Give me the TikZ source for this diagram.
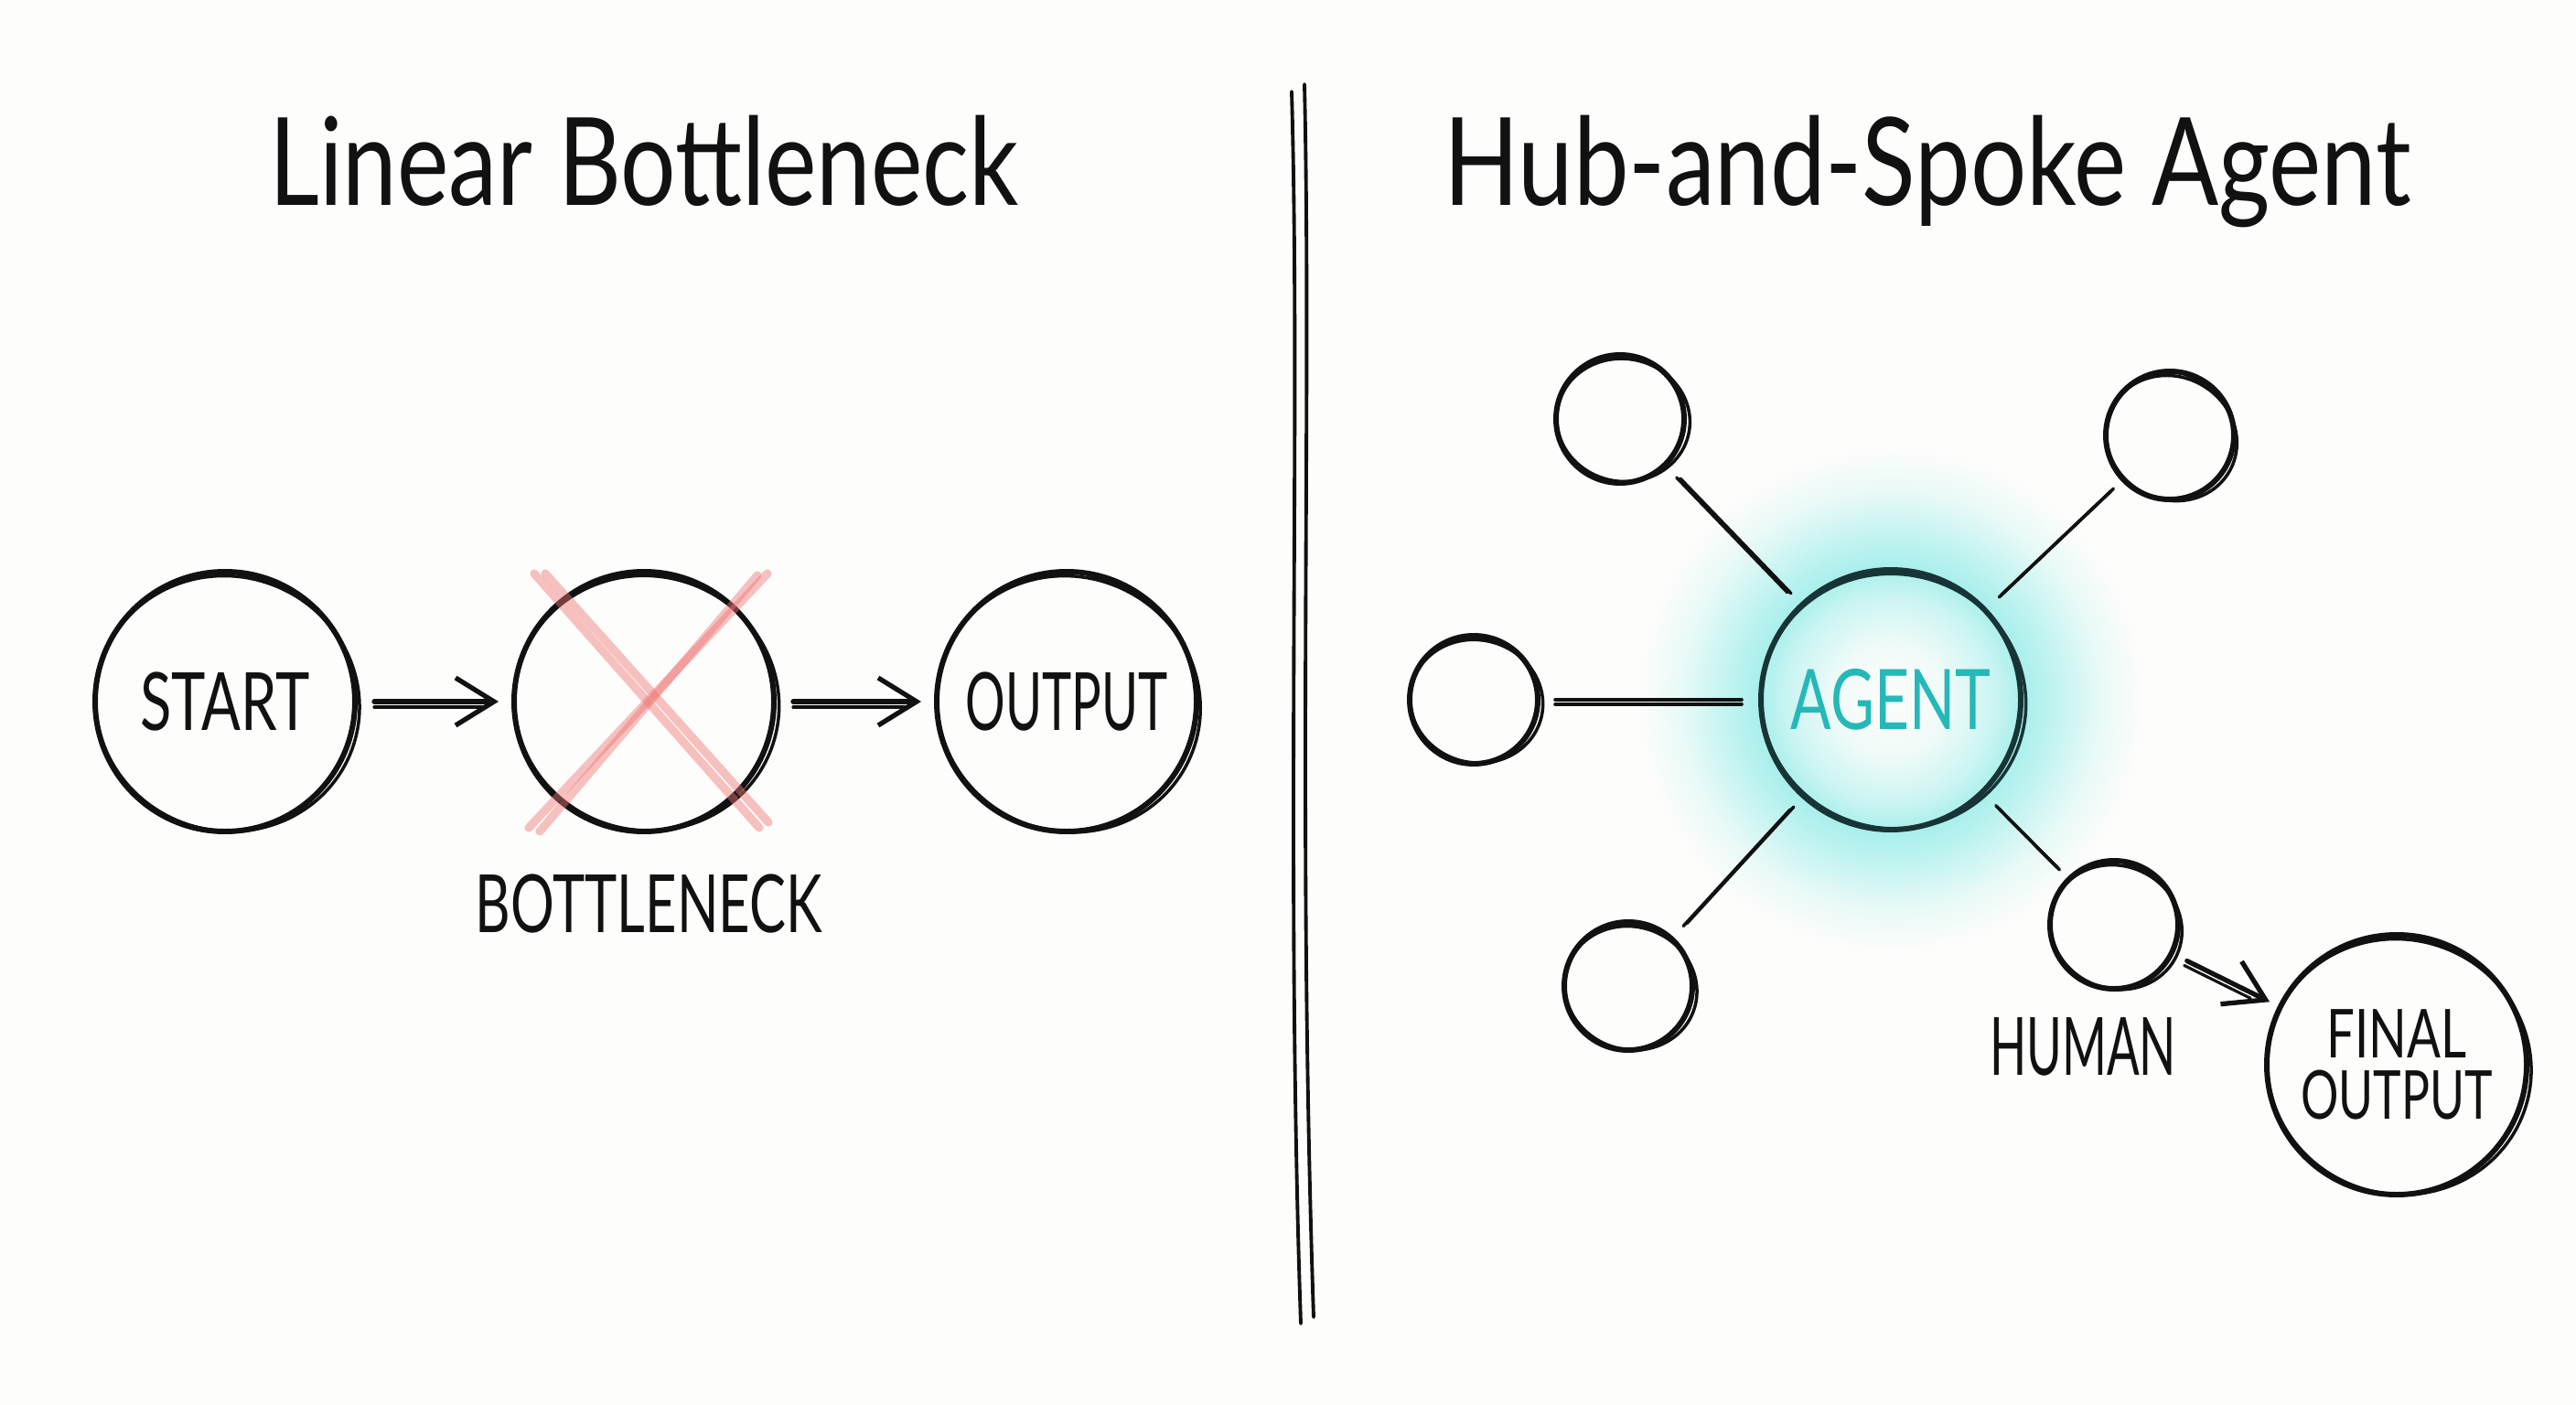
\documentclass[tikz,border=0pt]{standalone}
\usepackage{fontspec}
\setmainfont{Lato}
\usetikzlibrary{arrows.meta,calc}

\definecolor{bg}{RGB}{253,253,251}
\definecolor{ink}{RGB}{17,17,17}
\definecolor{agentink}{RGB}{24,52,54}
\definecolor{agenttxt}{RGB}{38,184,184}
\definecolor{glowc}{RGB}{168,239,236}
\definecolor{xred}{RGB}{238,118,118}
\colorlet{gA}{glowc!15!bg}
\colorlet{gB}{glowc!60!bg}
\colorlet{gC}{glowc!75!bg}
\colorlet{gD}{glowc!25!bg}

% in TikZ a 25bp radius of the shading is fitted to the path's half size
\pgfdeclareradialshading{agentglow}{\pgfpoint{0bp}{0bp}}{%
 color(0bp)=(bg); color(5bp)=(gA); color(9.5bp)=(gB); color(12bp)=(glowc);
 color(14.5bp)=(gC); color(19bp)=(gD); color(23bp)=(bg); color(25bp)=(bg); color(50bp)=(bg)}

\newcommand{\cond}[2]{\scalebox{#1}[1]{#2}}
% extra sketch stroke round a circular node: name, radius, rotation, colour
\newcommand{\ring}[4]{%
 \draw[#4, line width=1pt, rotate around={#3:(#1.center)}] ($(#1.center)+(#3:0.035)$) ellipse [x radius=#2+0.03, y radius=#2-0.03];
 \draw[#4, line width=1.4pt, line cap=round] ($(#1.center)+(#3+88:#2-0.01)$) arc[start angle=#3+88, end angle=#3+104, radius=#2-0.01];
}

\tikzset{
 skc/.style={circle, draw=ink, line width=1.7pt, inner sep=0pt, minimum size=#1},
 lbl/.style={text=ink, font=\fontsize{25}{27}\selectfont},
 ttl/.style={text=ink, font=\fontsize{38}{40}\selectfont, anchor=base},
 arr/.style={draw=ink, line width=1.5pt, line cap=round, -{Straight Barb[length=0.42cm,width=0.52cm]}},
 arr2/.style={draw=ink, line width=0.9pt, line cap=round},
 spoke/.style={draw=ink, line width=1pt, line cap=round, shorten <=0.16cm, shorten >=0.18cm},
 xs/.style={draw=xred, line width=2.6pt, line cap=round, opacity=0.45},
}

\begin{document}
\begin{tikzpicture}
\useasboundingbox (0,0) rectangle (28.16,-15.36);
\fill[bg] (0,0) rectangle (28.16,-15.36);

% titles
\node[ttl] (t1) at (7.04,-2.25) {\cond{0.80}{Linear Bottleneck}};
\node[ttl] (t2) at (21.07,-2.25) {\cond{0.81}{Hub-and-Spoke Agent}};

% divider
\draw[ink, line width=1.1pt, line cap=round] (14.12,-1.00) .. controls (14.22,-4.5) and (14.05,-9.5) .. (14.22,-14.47);
\draw[ink, line width=1.1pt, line cap=round] (14.26,-0.92) .. controls (14.34,-4.5) and (14.18,-9.0) .. (14.36,-14.40);

% ---------------- left: linear bottleneck
\node[skc=2.84cm, lbl] (start) at (2.46,-7.67) {\cond{0.72}{START}};
\node[skc=2.84cm] (bn) at (7.04,-7.67) {};
\node[skc=2.84cm, lbl] (out) at (11.66,-7.67) {\cond{0.62}{OUTPUT}};
\ring{start}{1.42}{-20}{ink}
\ring{bn}{1.42}{-15}{ink}
\ring{out}{1.42}{-25}{ink}
\node[lbl] (bnl) at (7.09,-9.88) {\cond{0.68}{BOTTLENECK}};

\draw[arr, shorten <=0.18cm, shorten >=0.14cm] (start) -- (bn);
\draw[arr2, shorten <=0.18cm, shorten >=0.32cm, transform canvas={yshift=-0.06cm}] (start) -- (bn);
\draw[arr, shorten <=0.18cm, shorten >=0.14cm] (bn) -- (out);
\draw[arr2, shorten <=0.18cm, shorten >=0.32cm, transform canvas={yshift=-0.06cm}] (bn) -- (out);

% red cross
\draw[xs] ([shift={(-1.20,1.40)}]bn.center) -- ([shift={(1.26,-1.38)}]bn.center);
\draw[xs] ([shift={(-1.08,1.40)}]bn.center) -- ([shift={(1.36,-1.32)}]bn.center);
\draw[xs] ([shift={(1.35,1.40)}]bn.center) -- ([shift={(-1.26,-1.38)}]bn.center);
\draw[xs] ([shift={(1.24,1.38)}]bn.center) -- ([shift={(-1.14,-1.42)}]bn.center);

% ---------------- right: hub and spoke
\coordinate (ac) at (20.67,-7.65);
\shade[shading=agentglow] (ac) circle (3.0);
\node[skc=2.84cm, draw=agentink, text=agenttxt, font=\fontsize{26}{28}\selectfont] (agent) at (ac) {\cond{0.72}{AGENT}};
\ring{agent}{1.42}{-15}{agentink}

\node[skc=1.40cm] (tl) at (17.71,-4.58) {};
\node[skc=1.40cm] (tr) at (23.72,-4.76) {};
\node[skc=1.40cm] (lf) at (16.11,-7.65) {};
\node[skc=1.40cm] (bl) at (17.80,-10.78) {};
\node[skc=1.40cm] (hu) at (23.11,-10.11) {};
\node[skc=2.84cm, lbl, align=center, font=\fontsize{21}{21}\selectfont] (fo) at (26.20,-11.64) {\cond{0.74}{FINAL}\\[-2pt]\cond{0.70}{OUTPUT}};
\ring{tl}{0.70}{-10}{ink}
\ring{tr}{0.70}{-30}{ink}
\ring{lf}{0.70}{-15}{ink}
\ring{bl}{0.70}{-20}{ink}
\ring{hu}{0.70}{-25}{ink}
\ring{fo}{1.42}{-20}{ink}
\node[lbl] (hul) at (22.77,-11.44) {\cond{0.60}{HUMAN}};

% spokes (double hand strokes)
\draw[spoke] (tl) -- (agent);
\draw[spoke, transform canvas={shift={(0.04,-0.01)}}] (tl) -- (agent);
\draw[spoke] (tr) -- (agent);
\draw[spoke, transform canvas={shift={(0.03,0.03)}}] (tr) -- (agent);
\draw[spoke] (lf) -- (agent);
\draw[spoke, transform canvas={yshift=-0.05cm}] (lf) -- (agent);
\draw[spoke] (bl) -- (agent);
\draw[spoke, transform canvas={shift={(0.04,0.03)}}] (bl) -- (agent);
\draw[spoke] (hu) -- (agent);
\draw[spoke, transform canvas={shift={(0.03,-0.03)}}] (hu) -- (agent);

% human -> final output
\draw[arr, shorten <=0.16cm, shorten >=0.10cm] (hu) -- (fo);
\draw[arr2, shorten <=0.16cm, shorten >=0.30cm, transform canvas={shift={(-0.03,-0.05)}}] (hu) -- (fo);
\end{tikzpicture}
\end{document}
